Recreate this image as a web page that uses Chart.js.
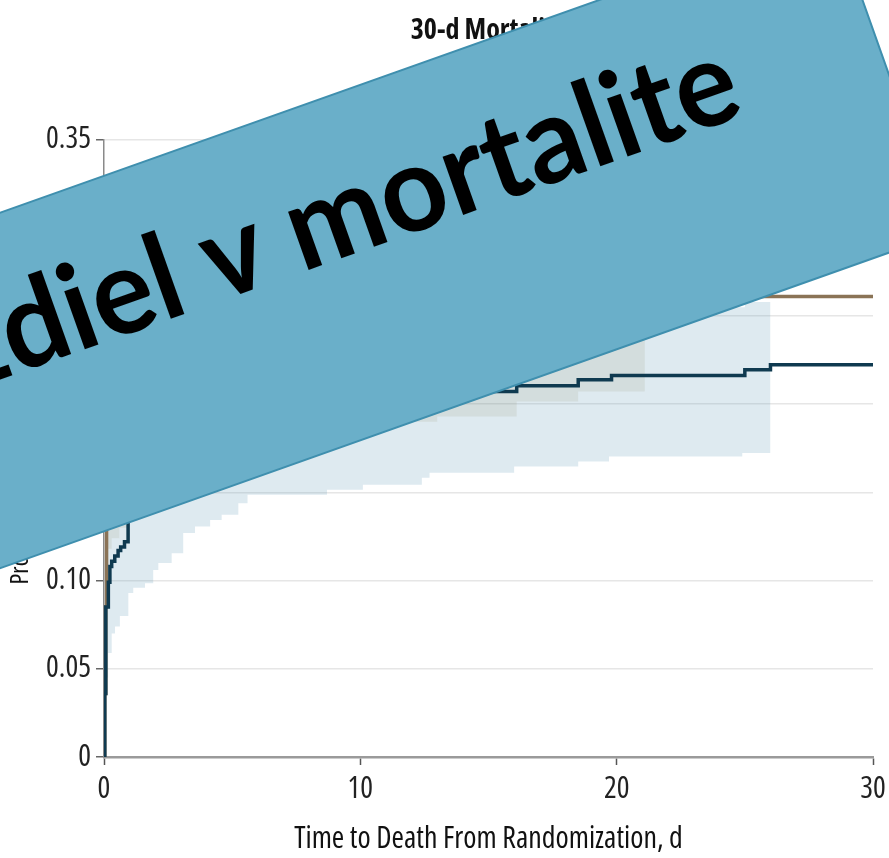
<!DOCTYPE html>
<html>
<head>
<meta charset="utf-8">
<script src="https://cdn.jsdelivr.net/npm/chart.js@4.4.1/dist/chart.umd.min.js"></script>
<style>
  html, body { margin: 0; padding: 0; background: #fff; }
  #chart { display: block; }
</style>
</head>
<body>
<canvas id="chart" width="889" height="858"></canvas>
<script>
// ===== Data =====

const xTicks = [0, 10, 20, 30];
const yTicks = [0, 0.05, 0.10, 0.15, 0.20, 0.25, 0.30, 0.35];

// 1:1:1 group (navy) - cumulative mortality, step starts at each time
const navyTime = [0, 0.03, 0.07, 0.17, 0.23, 0.3, 0.42, 0.55, 0.65, 0.8, 0.94, 1.4, 2.2, 3.1, 4.3, 5.8, 7.5, 9.4, 11.6, 13.6, 16.1, 18.5, 19.8, 25.0, 26.0, 30];
const navyRisk = [0, 0.036, 0.085, 0.099, 0.108, 0.111, 0.114, 0.117, 0.119, 0.122, 0.145, 0.150, 0.160, 0.169, 0.177, 0.185, 0.191, 0.196, 0.201, 0.2072, 0.2104, 0.2139, 0.2163, 0.2195, 0.2224, 0.2224];

const navyLoTime = [0, 0.07, 0.16, 0.30, 0.43, 0.62, 0.95, 1.14, 1.6, 1.92, 2.12, 2.64, 3.09, 3.55, 4.14, 4.59, 5.24, 5.6, 8.7, 10.1, 12.4, 12.7, 16.0, 18.5, 19.7, 24.9, 26.0];
const navyLo = [0, 0.045, 0.059, 0.070, 0.074, 0.080, 0.093, 0.096, 0.0985, 0.106, 0.110, 0.1155, 0.127, 0.1306, 0.1344, 0.1373, 0.1439, 0.1486, 0.1515, 0.1543, 0.1583, 0.1611, 0.1647, 0.1675, 0.1703, 0.1723, 0.1723];

const navyHiTime = [0, 0.03, 0.07, 0.1, 0.5, 0.94, 2, 3, 5, 8, 11, 14, 16.1, 19.8, 25.0, 26.0];
const navyHi = [0, 0.06, 0.12, 0.145, 0.16, 0.18, 0.20, 0.21, 0.222, 0.232, 0.238, 0.245, 0.250, 0.255, 0.258, 0.262];

// 1:1:2 group (brown)
const brownTime = [0, 0.03, 0.07, 0.1, 0.3, 0.6, 1, 1.5, 2.2, 3, 4, 5.5, 7, 9, 11, 13, 16, 19, 22, 30];
const brownRisk = [0, 0.036, 0.085, 0.140, 0.155, 0.165, 0.178, 0.190, 0.200, 0.210, 0.218, 0.226, 0.233, 0.239, 0.245, 0.250, 0.254, 0.257, 0.2611, 0.2611];

const brownLoTime = [0, 0.03, 0.07, 0.1, 0.3, 0.6, 1, 1.5, 2.2, 3, 4, 5.5, 7, 9, 11, 13, 16.1, 18.5, 21.1];
const brownLo = [0, 0.02, 0.06, 0.118, 0.124, 0.13, 0.145, 0.15, 0.155, 0.16, 0.168, 0.175, 0.18, 0.185, 0.19, 0.193, 0.2015, 0.2072, 0.2072];

const brownHiTime = [0, 0.03, 0.07, 0.1, 0.5, 1, 2, 4, 7, 10, 14, 18, 21.1];
const brownHi = [0, 0.06, 0.12, 0.18, 0.20, 0.22, 0.24, 0.26, 0.275, 0.285, 0.292, 0.296, 0.298];

// Colors
const NAVY = '#0f3a50';
const BROWN = '#8a7356';
const NAVY_BAND = 'rgba(90, 150, 180, 0.2)';
const BROWN_BAND = 'rgba(130, 120, 80, 0.12)';

// condensed face of Open Sans (stretch keyword goes through the weight slot)
const FAMILY = "'Open Sans', 'DejaVu Sans Condensed', sans-serif";

function toPoints(times, values) {
    return times.map((t, i) => ({ x: t, y: values[i] }));
}

// Banner laid over the chart (slide annotation)
const bannerPlugin = {
    id: 'banner',
    afterDraw(chart) {
        const ctx = chart.ctx;
        ctx.save();
        ctx.translate(833, -83);
        ctx.rotate(-19.55 * Math.PI / 180);
        ctx.fillStyle = '#6aafc9';
        ctx.strokeStyle = '#3f8fae';
        ctx.lineWidth = 2;
        ctx.beginPath();
        ctx.rect(-1300, 0, 1300, 335);
        ctx.fill();
        ctx.stroke();

        // text, fitted to the visible width
        ctx.font = "bold 120px Lato, 'Open Sans', sans-serif";
        const w = ctx.measureText('diel v mortalite').width;
        ctx.translate(-147, 157);
        ctx.scale(776 / w, 1);
        ctx.fillStyle = '#000';
        ctx.textAlign = 'right';
        ctx.textBaseline = 'alphabetic';
        ctx.fillText('Rozdiel v mortalite', 0, 0);
        ctx.restore();
    }
};

const ctx = document.getElementById('chart').getContext('2d');

new Chart(ctx, {
    type: 'line',
    data: {
        datasets: [
            {
                data: toPoints(navyHiTime, navyHi),
                stepped: true,
                borderWidth: 0,
                pointRadius: 0,
                backgroundColor: NAVY_BAND,
                fill: '+1',
                order: 6
            },
            {
                data: toPoints(navyLoTime, navyLo),
                stepped: true,
                borderWidth: 0,
                pointRadius: 0,
                fill: false,
                order: 5
            },
            {
                data: toPoints(brownHiTime, brownHi),
                stepped: true,
                borderWidth: 0,
                pointRadius: 0,
                backgroundColor: BROWN_BAND,
                fill: '+1',
                order: 4
            },
            {
                data: toPoints(brownLoTime, brownLo),
                stepped: true,
                borderWidth: 0,
                pointRadius: 0,
                fill: false,
                order: 3
            },
            {
                label: '1:1:2',
                data: toPoints(brownTime, brownRisk),
                stepped: true,
                borderColor: BROWN,
                borderWidth: 3.5,
                pointRadius: 0,
                fill: false,
                order: 2
            },
            {
                label: '1:1:1',
                data: toPoints(navyTime, navyRisk),
                stepped: true,
                borderColor: NAVY,
                borderWidth: 3.5,
                pointRadius: 0,
                fill: false,
                order: 1
            }
        ]
    },
    options: {
        responsive: false,
        animation: false,
        devicePixelRatio: 1,
        layout: {
            padding: { left: 0, right: 0, top: 0, bottom: 0 }
        },
        plugins: {
            legend: { display: false },
            tooltip: { enabled: false },
            title: {
                display: true,
                text: '30-d Mortality',
                fullSize: false,
                color: '#111',
                font: { family: FAMILY, size: 28, weight: 'bold condensed' },
                padding: { top: 14, bottom: 92 }
            }
        },
        scales: {
            x: {
                type: 'linear',
                min: 0,
                max: 30,
                afterBuildTicks: (scale) => {
                    scale.ticks = xTicks.map(v => ({ value: v }));
                },
                afterFit: (scale) => {
                    scale.height = 101;
                    scale.paddingLeft = 0;
                    scale.paddingRight = 16;
                },
                ticks: {
                    color: '#222',
                    padding: 6,
                    font: { family: FAMILY, size: 30, weight: 'condensed' }
                },
                grid: {
                    drawOnChartArea: false,
                    tickLength: 8,
                    tickColor: '#555',
                    tickWidth: 1.5
                },
                border: { color: '#9a9a9a', width: 2.5 },
                title: {
                    display: true,
                    text: 'Time to Death From Randomization, d',
                    color: '#111',
                    font: { family: FAMILY, size: 30, weight: 'condensed' },
                    padding: { top: 0, bottom: 1 }
                }
            },
            y: {
                min: 0,
                max: 0.35,
                afterBuildTicks: (scale) => {
                    scale.ticks = yTicks.map(v => ({ value: v }));
                },
                afterFit: (scale) => {
                    scale.width = 104;
                },
                ticks: {
                    color: '#222',
                    padding: 5,
                    font: { family: FAMILY, size: 30, weight: 'condensed' },
                    callback: (v) => v === 0 ? '0' : v.toFixed(2)
                },
                grid: {
                    color: '#e6e6e6',
                    lineWidth: 1.5,
                    tickLength: 8,
                    tickColor: '#666'
                },
                border: { color: '#8a8a8a', width: 1.5 },
                title: {
                    display: true,
                    text: 'Proportion of Patients Who Died',
                    color: '#111',
                    font: { family: FAMILY, size: 24.5, weight: 'condensed' },
                    padding: { top: 6, bottom: 0 }
                }
            }
        }
    },
    plugins: [bannerPlugin]
});
</script>
</body>
</html>
